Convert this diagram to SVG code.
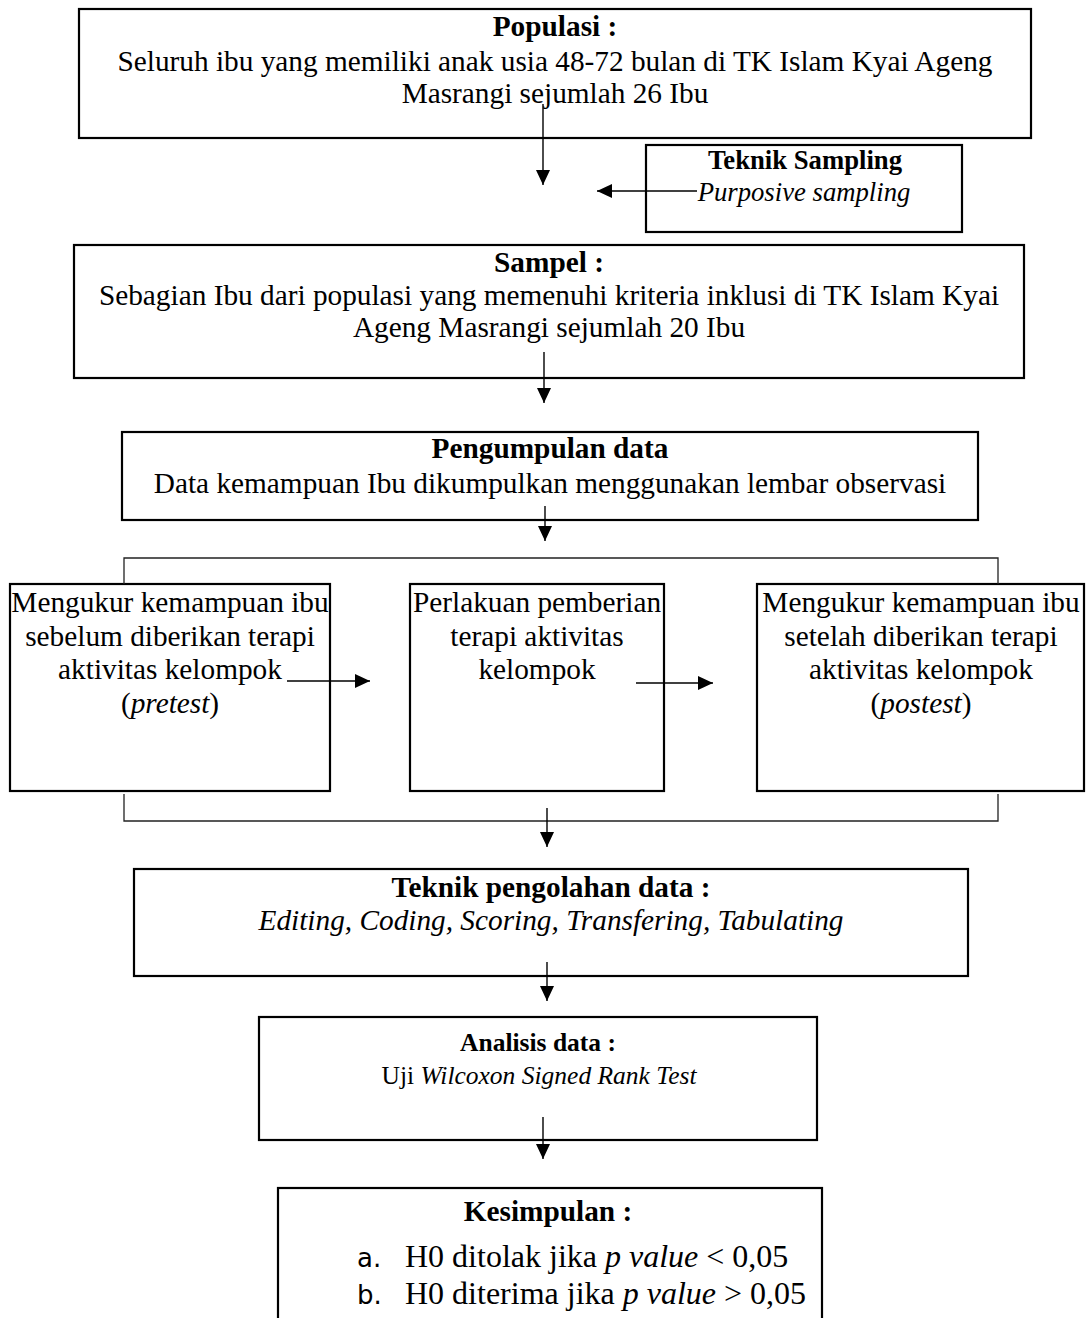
<svg xmlns="http://www.w3.org/2000/svg" width="1086" height="1318" viewBox="0 0 1086 1318">
<defs>
<style>
.box{fill:#fff;stroke:#000;stroke-width:2.2}
.t{font-family:"Liberation Serif","Times New Roman",serif;font-size:29.3px;fill:#000}
.s{font-size:26.7px}
.m{font-size:25.5px}
.l{font-size:32px}
.c{text-anchor:middle}
.b{font-weight:bold}
.i{font-style:italic}
.ln{stroke:#000;stroke-width:1.4;fill:none}
.br{stroke:#222;stroke-width:1.3;fill:none}
.sans{font-family:"DejaVu Sans",sans-serif;font-size:26px}
</style>
<marker id="ah" markerUnits="userSpaceOnUse" markerWidth="15" markerHeight="14" refX="15" refY="7" orient="auto">
<path d="M0,0 L15,7 L0,14 z" fill="#000"/>
</marker>
</defs>

<g id="populasi">
<rect class="box" x="79" y="9" width="952" height="129"/>
<text class="t c b" x="555" y="36">Populasi :</text>
<text class="t c" x="555" y="71">Seluruh ibu yang memiliki anak usia 48-72 bulan di TK Islam Kyai Ageng</text>
<text class="t c" x="555" y="103">Masrangi sejumlah 26 Ibu</text>
</g>

<g id="teknik-sampling">
<rect class="box" x="646" y="145" width="316" height="87"/>
<text class="t s c b" x="805" y="169">Teknik Sampling</text>
<text class="t s c i" x="804" y="201">Purposive sampling</text>
</g>

<g id="sampel">
<rect class="box" x="74" y="245" width="950" height="133"/>
<text class="t c b" x="549" y="272">Sampel :</text>
<text class="t c" x="549" y="305">Sebagian Ibu dari populasi yang memenuhi kriteria inklusi di TK Islam Kyai</text>
<text class="t c" x="549" y="337">Ageng Masrangi sejumlah 20 Ibu</text>
</g>

<g id="pengumpulan">
<rect class="box" x="122" y="432" width="856" height="88"/>
<text class="t c b" x="550" y="458">Pengumpulan data</text>
<text class="t c" x="550" y="493">Data kemampuan Ibu dikumpulkan menggunakan lembar observasi</text>
</g>

<g id="pretest">
<rect class="box" x="10" y="584" width="320" height="207"/>
<text class="t c" x="170" y="612">Mengukur kemampuan ibu</text>
<text class="t c" x="170" y="646">sebelum diberikan terapi</text>
<text class="t c" x="170" y="679">aktivitas kelompok</text>
<text class="t c" x="170" y="713">(<tspan class="i">pretest</tspan>)</text>
</g>

<g id="perlakuan">
<rect class="box" x="410" y="584" width="254" height="207"/>
<text class="t c" x="537" y="612">Perlakuan pemberian</text>
<text class="t c" x="537" y="646">terapi aktivitas</text>
<text class="t c" x="537" y="679">kelompok</text>
</g>

<g id="postest">
<rect class="box" x="757" y="584" width="327" height="207"/>
<text class="t c" x="921" y="612">Mengukur kemampuan ibu</text>
<text class="t c" x="921" y="646">setelah diberikan terapi</text>
<text class="t c" x="921" y="679">aktivitas kelompok</text>
<text class="t c" x="921" y="713">(<tspan class="i">postest</tspan>)</text>
</g>

<g id="pengolahan">
<rect class="box" x="134" y="869" width="834" height="107"/>
<text class="t c b" x="551" y="897">Teknik pengolahan data :</text>
<text class="t c i" x="551" y="930">Editing, Coding, Scoring, Transfering, Tabulating</text>
</g>

<g id="analisis">
<rect class="box" x="259" y="1017" width="558" height="123"/>
<text class="t m c b" x="538" y="1051">Analisis data :</text>
<text class="t m c" x="539" y="1084">Uji <tspan class="i">Wilcoxon Signed Rank Test</tspan></text>
</g>

<g id="kesimpulan">
<rect class="box" x="278" y="1188" width="544" height="140"/>
<text class="t c b" x="548" y="1221">Kesimpulan :</text>
<text class="sans" x="357" y="1267">a.</text>
<text class="t l" x="405" y="1267">H0 ditolak jika <tspan class="i">p value</tspan> &lt; 0,05</text>
<text class="sans" x="357" y="1304">b.</text>
<text class="t l" x="405" y="1304">H0 diterima jika <tspan class="i">p value</tspan> &gt; 0,05</text>
</g>

<g id="connectors">
<line class="ln" x1="543" y1="104" x2="543" y2="185" marker-end="url(#ah)"/>
<line class="ln" x1="697" y1="191" x2="597" y2="191" marker-end="url(#ah)"/>
<line class="ln" x1="544" y1="352" x2="544" y2="403" marker-end="url(#ah)"/>
<line class="ln" x1="545" y1="506" x2="545" y2="541" marker-end="url(#ah)"/>
<polyline class="br" points="124,584 124,558 998,558 998,584"/>
<line class="ln" x1="287" y1="681" x2="370" y2="681" marker-end="url(#ah)"/>
<line class="ln" x1="636" y1="683" x2="713" y2="683" marker-end="url(#ah)"/>
<polyline class="br" points="124,794 124,821 998,821 998,794"/>
<line class="ln" x1="547" y1="808" x2="547" y2="847" marker-end="url(#ah)"/>
<line class="ln" x1="547" y1="962" x2="547" y2="1001" marker-end="url(#ah)"/>
<line class="ln" x1="543" y1="1117" x2="543" y2="1159" marker-end="url(#ah)"/>
</g>
</svg>
